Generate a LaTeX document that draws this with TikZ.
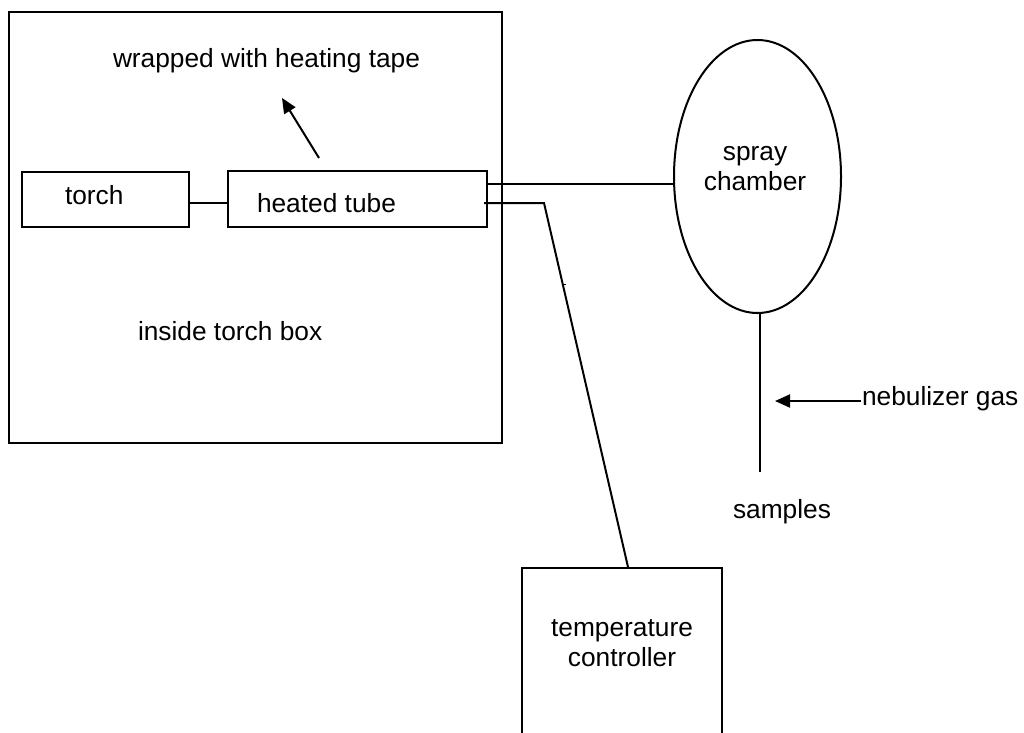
\documentclass[tikz,border=0pt]{standalone}
\usepackage{fontspec}
\setmainfont{Liberation Sans}
\usetikzlibrary{arrows.meta,shapes.geometric,calc}
\begin{document}
\begin{tikzpicture}[x=1pt,y=-1pt,
  line width=2pt,
  box/.style={draw, rectangle, inner sep=0pt},
  lbl/.style={font=\fontsize{26.3}{30}\selectfont, inner sep=0pt},
  arr/.style={-{Triangle[length=15pt,width=13pt]}}
]
\useasboundingbox (0,0) rectangle (1024,732);
% boxes
\node[box, minimum width=493pt, minimum height=431.5pt] (outer) at (255.5,227.25) {};
\node[box, minimum width=167pt, minimum height=55pt] (torch) at (105.5,199.5) {};
\node[box, minimum width=259pt, minimum height=56pt] (tube) at (357.5,199) {};
\node[draw, ellipse, inner sep=0pt, minimum width=167pt, minimum height=273pt] (spray) at (757.5,176.5) {};
\node[box, minimum width=200pt, minimum height=180pt] (ctrl) at (622,658) {};
% labels
\node[lbl, anchor=base west] (wrap) at (112,67) {wrapped with heating tape};
\node[lbl, anchor=base west] (torchlbl) at (64,204) {torch};
\node[lbl, anchor=base west] (tubelbl) at (256,212) {heated tube};
\node[lbl, anchor=base west] (insidelbl) at (137,340) {inside torch box};
\node[lbl, align=center] (spraylbl) at (755,169) {spray\\chamber};
\node[lbl, align=center] (ctrllbl) at (622,643.3) {temperature\\controller};
\node[lbl, anchor=base west] (samples) at (732,518) {samples};
\node[lbl, anchor=base west] (gas) at (861,405) {nebulizer gas};
% coordinates
\coordinate (wraptip) at (282,98);
\coordinate (bend) at (544,203);
\coordinate (sampleend) at (760,472);
\coordinate (gastip) at (775,401);
% connectors
\draw ([yshift=-3.5pt]torch.east) -- ([yshift=-4pt]tube.west);
\draw ([yshift=15pt]tube.east) coordinate (u) -- (u -| spray.west);
\draw ([xshift=-4pt,yshift=-4pt]tube.east) -- (bend) -- ([xshift=6pt]ctrl.north);
\draw[line width=1pt] (562.6,284) -- (565.5,284);
\draw[arr] ([xshift=-38.5pt,yshift=12pt]tube.north) -- (wraptip);
\draw ([xshift=2.5pt]spray.south) -- (sampleend);
\draw[arr] (gastip -| gas.west) -- (gastip);
\end{tikzpicture}
\end{document}
